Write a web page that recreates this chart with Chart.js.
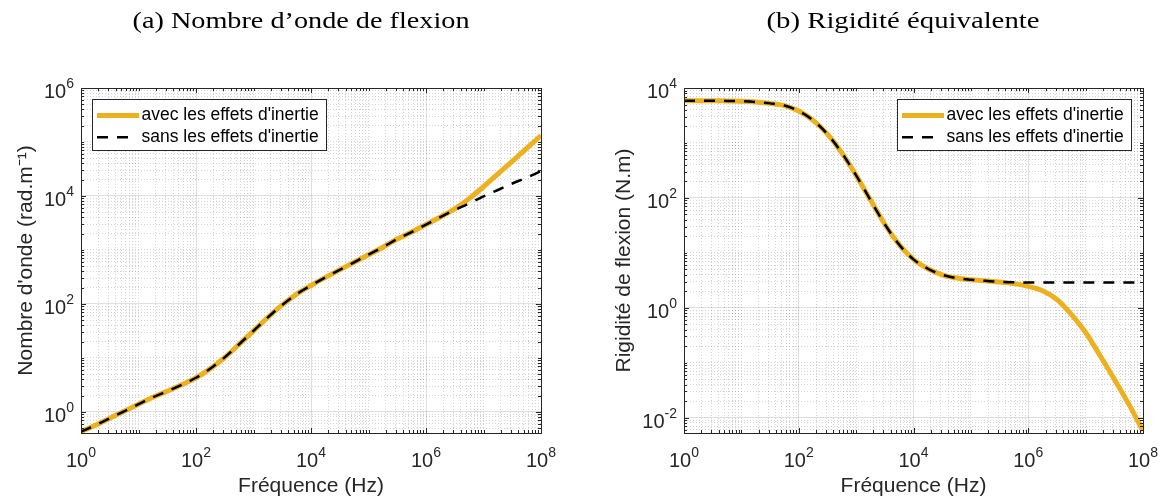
<!DOCTYPE html>
<html>
<head>
<meta charset="utf-8">
<script src="https://cdn.jsdelivr.net/npm/chart.js@4.4.1/dist/chart.umd.min.js"></script>
<style>
  html, body { margin: 0; padding: 0; background: #fff; }
  #wrap { position: relative; width: 1163px; height: 499px; }
  .pane { position: absolute; top: 0; height: 499px; }
</style>
</head>
<body>
<div id="wrap">
  <div class="pane" style="left:0;width:590px"><canvas id="chartA" width="590" height="499"></canvas></div>
  <div class="pane" style="left:590px;width:573px"><canvas id="chartB" width="573" height="499"></canvas></div>
</div>
<script>
// frequencies (Hz), quarter-decade steps
const freq = [1, 1.78, 3.16, 5.62, 10, 17.8, 31.6, 56.2, 100, 178, 316, 562,
  1e3, 1.78e3, 3.16e3, 5.62e3, 1e4, 1.78e4, 3.16e4, 5.62e4, 1e5, 1.78e5, 3.16e5, 5.62e5,
  1e6, 1.78e6, 3.16e6, 5.62e6, 1e7, 1.78e7, 3.16e7, 5.62e7, 1e8];

// (a) nombre d'onde (rad/m)
const kAvec = [0.427, 0.562, 0.759, 1.02, 1.38, 1.86, 2.40, 3.16, 4.27, 6.31, 10.2, 17.8,
  31.6, 56.2, 95.5, 151, 219, 309, 427, 589, 813, 1122, 1585, 2138,
  2951, 4074, 5754, 8913, 14790, 25700, 43650, 75860, 131800];
const kSans = [0.427, 0.562, 0.759, 1.02, 1.38, 1.86, 2.40, 3.16, 4.27, 6.31, 10.2, 17.8,
  31.6, 56.2, 95.5, 151, 219, 309, 427, 589, 813, 1122, 1585, 2138,
  2951, 4050, 5495, 7244, 9772, 12880, 16980, 21880, 28840];

// (b) rigidite de flexion (N.m)
const dAvec = [5890, 5890, 5890, 5820, 5750, 5560, 5250, 4790, 3800, 2570, 1445, 661,
  257, 91.2, 33.1, 14.1, 7.59, 5.13, 3.98, 3.47, 3.24, 3.09, 2.95, 2.75,
  2.45, 2.04, 1.41, 0.759, 0.355, 0.135, 0.0501, 0.0178, 0.00575];
const dSans = [5890, 5890, 5890, 5820, 5750, 5560, 5250, 4790, 3800, 2570, 1445, 661,
  257, 91.2, 33.1, 14.1, 7.59, 5.13, 3.98, 3.47, 3.24, 3.09, 2.95, 2.92,
  2.88, 2.88, 2.88, 2.88, 2.88, 2.88, 2.88, 2.88, 2.88];

const seriesLabels = ["avec les effets d'inertie", "sans les effets d'inertie"];
const titles = ['(a) Nombre d\u2019onde de flexion', '(b) Rigidit\u00e9 \u00e9quivalente'];
const xLabel = 'Fr\u00e9quence (Hz)';
const yLabels = ["Nombre d'onde (rad.m\u207b\u00b9)", 'Rigidit\u00e9 de flexion (N.m)'];

const SANS = '"Liberation Sans", Arial, Helvetica, sans-serif';
const INK = '#262626';
const SUP = { '0': '\u2070', '1': '\u00b9', '2': '\u00b2', '3': '\u00b3', '4': '\u2074',
  '5': '\u2075', '6': '\u2076', '7': '\u2077', '8': '\u2078', '9': '\u2079', '-': '\u207b' };

// ticks at 1..9 x 10^n, like matlab's log axes
function buildLogTicks(scale) {
  const out = [];
  const lo = Math.floor(Math.log10(scale.min)), hi = Math.ceil(Math.log10(scale.max));
  for (let e = lo; e <= hi; e++) {
    for (let m = 1; m <= 9; m++) {
      const v = m * Math.pow(10, e);
      if (v >= scale.min * 0.9999 && v <= scale.max * 1.0001) out.push({ value: v, major: m === 1 });
    }
  }
  scale.ticks = out;
}

function isLabelled(tick) {
  if (!tick || !tick.major) return false;
  return Math.round(Math.log10(tick.value)) % 2 === 0;
}

function expLabel(value, index, ticks) {
  if (!isLabelled(ticks[index])) return '';
  const e = String(Math.round(Math.log10(value)));
  return '10' + e.split('').map(c => SUP[c]).join('');
}

// inward ticks on all four sides, box, and "10^n" tick labels with a raised exponent
const frame = {
  id: 'frame',
  afterDatasetsDraw(chart) {
    const { ctx, chartArea: a, scales } = chart;
    ctx.save();
    ctx.strokeStyle = INK;
    ctx.lineWidth = 1;
    ctx.beginPath();
    scales.x.ticks.forEach(t => {
      const px = Math.round(scales.x.getPixelForValue(t.value)) + 0.5;
      const len = isLabelled(t) ? 5 : 3;
      ctx.moveTo(px, a.bottom); ctx.lineTo(px, a.bottom - len);
      ctx.moveTo(px, a.top); ctx.lineTo(px, a.top + len);
    });
    scales.y.ticks.forEach(t => {
      const py = Math.round(scales.y.getPixelForValue(t.value)) + 0.5;
      const len = isLabelled(t) ? 5 : 3;
      ctx.moveTo(a.left, py); ctx.lineTo(a.left + len, py);
      ctx.moveTo(a.right, py); ctx.lineTo(a.right - len, py);
    });
    ctx.stroke();
    ctx.strokeRect(Math.round(a.left) + 0.5, Math.round(a.top) + 0.5,
      Math.round(a.right - a.left), Math.round(a.bottom - a.top));

    ctx.fillStyle = INK;
    ctx.textBaseline = 'alphabetic';
    const big = '20px ' + SANS, small = '14px ' + SANS;
    const parts = t => ['10', String(Math.round(Math.log10(t.value)))];
    scales.x.ticks.forEach(t => {
      if (!t.label) return;
      const [b, e] = parts(t);
      ctx.font = big; const w1 = ctx.measureText(b).width;
      ctx.font = small; const w2 = ctx.measureText(e).width;
      const x0 = scales.x.getPixelForValue(t.value) - (w1 + w2) / 2;
      ctx.textAlign = 'left';
      ctx.font = big; ctx.fillText(b, x0, a.bottom + 34);
      ctx.font = small; ctx.fillText(e, x0 + w1, a.bottom + 24);
    });
    scales.y.ticks.forEach(t => {
      if (!t.label) return;
      const [b, e] = parts(t);
      const py = scales.y.getPixelForValue(t.value);
      const xr = a.left - 7;
      ctx.font = small; const w2 = ctx.measureText(e).width;
      ctx.textAlign = 'right';
      ctx.fillText(e, xr, py);
      ctx.font = big; ctx.fillText(b, xr - w2, py + 10);
    });
    ctx.restore();
  }
};

// boxed legend inside the axes
const boxLegend = {
  id: 'boxLegend',
  afterDraw(chart, args, opts) {
    const { ctx, chartArea: a } = chart;
    const w = 234, h = 51;
    const x0 = Math.round(opts.side === 'left' ? a.left + 11 : a.right - 12 - w);
    const y0 = Math.round(a.top + 11);
    ctx.save();
    ctx.fillStyle = '#fff';
    ctx.fillRect(x0, y0, w, h);
    ctx.strokeStyle = INK;
    ctx.lineWidth = 1;
    ctx.strokeRect(x0 + 0.5, y0 + 0.5, w, h);
    ctx.font = '17.5px ' + SANS;
    ctx.textBaseline = 'middle';
    chart.data.datasets.forEach((ds, i) => {
      const yy = y0 + 16.5 + i * 21.7;
      const dashed = ds.borderDash && ds.borderDash.length;
      ctx.beginPath();
      ctx.strokeStyle = ds.borderColor;
      ctx.lineWidth = ds.borderWidth;
      ctx.setLineDash(dashed ? ds.borderDash : []);
      ctx.moveTo(x0 + 5, yy);
      ctx.lineTo(x0 + (dashed ? 38 : 47), yy);
      ctx.stroke();
      ctx.setLineDash([]);
      ctx.fillStyle = '#000';
      ctx.fillText(ds.label, x0 + 49.5, yy);
    });
    ctx.restore();
  }
};

// serif heading above each panel
const heading = {
  id: 'heading',
  afterDraw(chart, args, opts) {
    const ctx = chart.ctx;
    ctx.save();
    ctx.font = '23px "Liberation Serif", "Times New Roman", serif';
    ctx.fillStyle = '#000';
    ctx.textAlign = 'center';
    ctx.textBaseline = 'alphabetic';
    const w = ctx.measureText(opts.text).width;
    ctx.translate(opts.cx, 28);
    ctx.scale(opts.width / w, 1);
    ctx.fillText(opts.text, 0, 0);
    ctx.restore();
  }
};

function makeChart(id, cfg) {
  const gridColor = ctx => isLabelled(ctx.tick) ? 'rgba(38,38,38,0.15)' : 'rgba(38,38,38,0.2)';
  const gridDash = ctx => isLabelled(ctx.tick) ? [] : [1, 2];
  const axisCommon = {
    type: 'logarithmic',
    afterBuildTicks: buildLogTicks,
    grid: { color: gridColor, lineWidth: 1, drawTicks: false, tickLength: 0 },
    border: { display: false, dash: gridDash }
  };
  return new Chart(document.getElementById(id), {
    type: 'line',
    data: {
      datasets: [
        {
          label: seriesLabels[0],
          data: freq.map((f, i) => ({ x: f, y: cfg.avec[i] })),
          borderColor: '#EDB120', borderWidth: 5,
          pointRadius: 0, fill: false, order: 2,
          cubicInterpolationMode: 'monotone'
        },
        {
          label: seriesLabels[1],
          data: freq.map((f, i) => ({ x: f, y: cfg.sans[i] })),
          borderColor: '#000000', borderWidth: 2.5, borderDash: [11, 9],
          pointRadius: 0, fill: false, order: 1,
          cubicInterpolationMode: 'monotone'
        }
      ]
    },
    options: {
      responsive: false,
      devicePixelRatio: 1,
      animation: false,
      layout: { padding: { left: 0, right: cfg.padRight, top: 88, bottom: 0 } },
      plugins: {
        legend: { display: false },
        tooltip: { enabled: false },
        boxLegend: { side: cfg.legendSide },
        heading: { text: cfg.title, cx: cfg.titleX, width: cfg.titleW }
      },
      scales: {
        x: Object.assign({}, axisCommon, {
          min: 1, max: 1e8,
          afterFit: s => { s.height = 66; },
          ticks: { display: false, autoSkip: false, maxRotation: 0, callback: expLabel },
          title: { display: true, text: xLabel, color: INK,
            font: { family: SANS, size: 21 }, padding: { top: 0, bottom: 0 } }
        }),
        y: Object.assign({}, axisCommon, {
          min: cfg.yMin, max: cfg.yMax,
          afterFit: s => { s.width = cfg.yWidth; },
          ticks: { display: false, autoSkip: false, callback: expLabel },
          title: { display: true, text: cfg.yLabel, color: INK,
            font: { family: SANS, size: 21 }, padding: { top: cfg.yTitlePad, bottom: 0 } }
        })
      }
    },
    plugins: [frame, boxLegend, heading]
  });
}

makeChart('chartA', {
  avec: kAvec, sans: kSans, yMin: 0.404, yMax: 1e6,
  yWidth: 81, padRight: 49, yTitlePad: 14, yLabel: yLabels[0],
  legendSide: 'left', title: titles[0], titleX: 301, titleW: 337
});
makeChart('chartB', {
  avec: dAvec, sans: dSans, yMin: 0.00525, yMax: 1e4,
  yWidth: 94, padRight: 20, yTitlePad: 22, yLabel: yLabels[1],
  legendSide: 'right', title: titles[1], titleX: 313, titleW: 273
});
</script>
</body>
</html>
